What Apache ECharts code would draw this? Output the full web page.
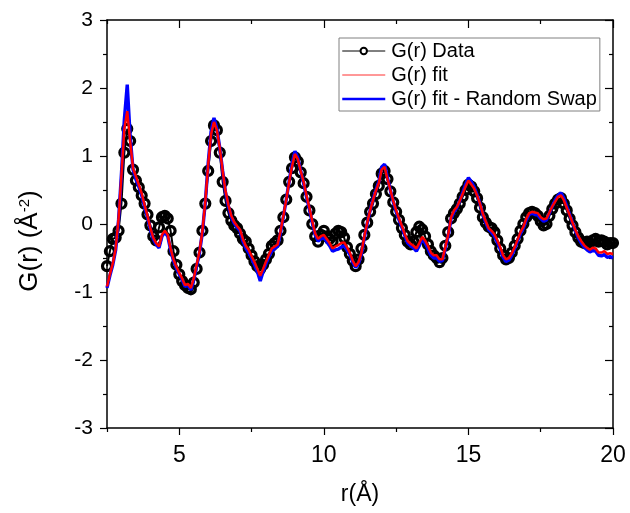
<!DOCTYPE html>
<html>
<head>
<meta charset="utf-8">
<script src="https://cdn.jsdelivr.net/npm/echarts@6/dist/echarts.min.js"></script>
<style>
  html, body { margin: 0; padding: 0; background: #fff; }
  #chart { width: 630px; height: 513px; }
</style>
</head>
<body>
<div id="chart"></div>
<script>
// Pair distribution function G(r), sampled every 0.1 Å from 2.5 Å to 20 Å
const R_START = 2.5;
const R_STEP = 0.1;

// Measured G(r)
const gData = [
  -0.62,-0.40,-0.22,-0.20,-0.10,0.30,1.05,1.40,1.22,0.80,
  0.64,0.54,0.42,0.30,0.14,-0.02,-0.18,-0.24,-0.05,0.10,
  0.12,0.08,-0.10,-0.40,-0.60,-0.74,-0.84,-0.90,-0.94,-0.96,
  -0.86,-0.66,-0.42,-0.10,0.30,0.78,1.22,1.45,1.38,1.05,
  0.62,0.34,0.16,0.05,-0.02,-0.06,-0.14,-0.22,-0.26,-0.36,
  -0.46,-0.55,-0.62,-0.66,-0.60,-0.52,-0.44,-0.32,-0.28,-0.24,
  -0.10,0.10,0.36,0.62,0.82,0.98,0.92,0.76,0.60,0.40,
  0.20,0.00,-0.18,-0.26,-0.16,-0.10,-0.18,-0.22,-0.26,-0.14,
  -0.10,-0.12,-0.20,-0.34,-0.44,-0.54,-0.62,-0.52,-0.36,-0.16,
  0.02,0.18,0.30,0.44,0.56,0.74,0.78,0.66,0.48,0.32,
  0.18,0.06,-0.06,-0.16,-0.26,-0.30,-0.26,-0.12,-0.04,-0.08,
  -0.18,-0.30,-0.40,-0.46,-0.50,-0.56,-0.50,-0.32,-0.12,0.08,
  0.16,0.22,0.30,0.40,0.50,0.58,0.55,0.48,0.38,0.24,
  0.10,0.02,-0.04,-0.06,-0.12,-0.24,-0.36,-0.46,-0.52,-0.50,
  -0.42,-0.32,-0.22,-0.10,0.00,0.10,0.16,0.18,0.16,0.12,
  0.04,-0.02,0.00,0.12,0.22,0.30,0.36,0.38,0.30,0.20,
  0.08,-0.02,-0.12,-0.20,-0.26,-0.28,-0.26,-0.28,-0.24,-0.22,
  -0.26,-0.24,-0.26,-0.30,-0.28,-0.28
];

// Fitted G(r)
const gFit = [
  -0.92,-0.74,-0.58,-0.36,0.08,0.72,1.40,1.66,1.22,0.82,
  0.70,0.58,0.45,0.28,0.12,-0.06,-0.20,-0.28,-0.33,-0.16,
  -0.10,-0.16,-0.36,-0.52,-0.63,-0.72,-0.80,-0.90,-0.88,-0.94,
  -0.80,-0.60,-0.40,-0.10,0.33,0.88,1.32,1.50,1.38,1.12,
  0.78,0.48,0.28,0.12,0.03,-0.03,-0.08,-0.22,-0.32,-0.38,
  -0.47,-0.56,-0.66,-0.76,-0.66,-0.55,-0.45,-0.36,-0.33,-0.30,
  -0.11,0.12,0.36,0.62,0.85,1.03,0.95,0.78,0.62,0.42,
  0.24,0.04,-0.14,-0.22,-0.18,-0.16,-0.22,-0.28,-0.36,-0.33,
  -0.31,-0.28,-0.27,-0.34,-0.42,-0.54,-0.62,-0.56,-0.42,-0.18,
  0.02,0.20,0.35,0.49,0.60,0.80,0.84,0.66,0.50,0.34,
  0.20,0.08,-0.03,-0.15,-0.25,-0.29,-0.32,-0.36,-0.28,-0.19,
  -0.24,-0.32,-0.42,-0.46,-0.46,-0.52,-0.52,-0.34,-0.16,0.10,
  0.20,0.25,0.34,0.44,0.55,0.64,0.58,0.52,0.42,0.30,
  0.15,0.04,-0.06,-0.10,-0.15,-0.24,-0.34,-0.46,-0.52,-0.50,
  -0.43,-0.34,-0.23,-0.12,-0.04,0.08,0.16,0.18,0.17,0.16,
  0.10,0.07,0.08,0.17,0.26,0.33,0.40,0.42,0.35,0.24,
  0.13,0.02,-0.09,-0.18,-0.25,-0.31,-0.35,-0.38,-0.35,-0.36,
  -0.42,-0.42,-0.40,-0.44,-0.43,-0.44
];

// Fitted G(r) after random swap refinement
const gFitSwap = [
  -0.94,-0.76,-0.60,-0.38,0.06,0.74,1.54,2.05,1.30,0.80,
  0.66,0.55,0.42,0.25,0.10,-0.08,-0.22,-0.30,-0.35,-0.18,
  -0.12,-0.18,-0.38,-0.54,-0.65,-0.74,-0.82,-0.92,-0.90,-0.97,
  -0.82,-0.62,-0.42,-0.12,0.32,0.90,1.36,1.56,1.40,1.12,
  0.78,0.46,0.26,0.10,0.01,-0.05,-0.10,-0.25,-0.35,-0.42,
  -0.50,-0.60,-0.70,-0.84,-0.70,-0.58,-0.48,-0.40,-0.36,-0.33,
  -0.13,0.11,0.36,0.63,0.88,1.07,0.97,0.78,0.60,0.40,
  0.22,0.02,-0.16,-0.25,-0.22,-0.20,-0.26,-0.32,-0.40,-0.38,
  -0.37,-0.34,-0.32,-0.38,-0.45,-0.56,-0.64,-0.58,-0.44,-0.20,
  0.01,0.20,0.36,0.50,0.62,0.84,0.88,0.68,0.50,0.33,
  0.18,0.06,-0.05,-0.17,-0.28,-0.32,-0.35,-0.40,-0.32,-0.22,
  -0.28,-0.36,-0.46,-0.50,-0.50,-0.55,-0.54,-0.36,-0.18,0.08,
  0.18,0.24,0.34,0.46,0.58,0.68,0.62,0.54,0.43,0.30,
  0.14,0.02,-0.08,-0.12,-0.18,-0.27,-0.37,-0.49,-0.55,-0.53,
  -0.46,-0.36,-0.25,-0.14,-0.06,0.06,0.14,0.16,0.14,0.13,
  0.08,0.04,0.06,0.16,0.26,0.35,0.42,0.46,0.38,0.26,
  0.14,0.02,-0.10,-0.20,-0.28,-0.34,-0.38,-0.41,-0.39,-0.40,
  -0.46,-0.47,-0.45,-0.49,-0.48,-0.50
];

// Axis ticks
const xMajorTicks = [5, 10, 15, 20];
const xMinorTicks = [2.5, 7.5, 12.5, 17.5];
const seriesNames = ['G(r) Data', 'G(r) fit', 'G(r) fit - Random Swap'];

// r sampling grid for the arrays above
const r = gData.map((_, i) => +(R_START + i * R_STEP).toFixed(2));
const pairs = vals => vals.map((v, i) => [r[i], v]);

const FONT = 'Liberation Sans, Arial, sans-serif';
const black = '#000';
const noMarker = { color: 'rgba(0,0,0,0)', borderWidth: 0 };

const xBase = { type: 'value', min: 2.5, max: 20, gridIndex: 0, splitLine: { show: false } };

const option = {
  animation: false,
  backgroundColor: '#fff',
  textStyle: { fontFamily: FONT, color: black },
  grid: { left: 107, right: 17, top: 20, bottom: 85, containLabel: false },
  legend: {
    orient: 'vertical',
    left: 339,
    top: 38,
    padding: [3, 3, 2, 2],
    itemGap: 4,
    itemWidth: 43,
    itemHeight: 8,
    borderColor: '#808080',
    borderWidth: 1,
    backgroundColor: '#fff',
    textStyle: { fontFamily: FONT, fontSize: 20, color: black, padding: [0, 0, 0, 1] },
    data: [
      { name: seriesNames[0], itemStyle: { color: '#fff', borderColor: black, borderWidth: 2 }, lineStyle: { width: 1, color: black } },
      { name: seriesNames[1], itemStyle: noMarker, lineStyle: { width: 1, color: '#ff3030' } },
      { name: seriesNames[2], itemStyle: noMarker, lineStyle: { width: 2.5, color: '#0000ff' } }
    ]
  },
  xAxis: [
    Object.assign({}, xBase, {
      position: 'bottom',
      name: 'r(Å)',
      nameLocation: 'middle',
      nameGap: 55,
      nameTextStyle: { fontFamily: FONT, fontSize: 23, color: black },
      axisLine: { show: true, onZero: false, lineStyle: { color: black, width: 1.5 } },
      axisTick: { show: true, inside: false, length: 7, customValues: xMajorTicks, lineStyle: { color: black, width: 1.2 } },
      axisLabel: { show: true, customValues: xMajorTicks, margin: 16, fontSize: 23, fontFamily: FONT, color: black }
    }),
    Object.assign({}, xBase, {
      position: 'bottom',
      axisLine: { show: false, onZero: false },
      axisTick: { show: true, inside: false, length: 4, customValues: xMinorTicks, lineStyle: { color: black, width: 1.2 } },
      axisLabel: { show: false }
    }),
    Object.assign({}, xBase, {
      position: 'top',
      axisLine: { show: true, onZero: false, lineStyle: { color: black, width: 1.5 } },
      axisTick: { show: true, inside: true, length: 8, customValues: xMajorTicks, lineStyle: { color: black, width: 1.2 } },
      axisLabel: { show: false }
    }),
    Object.assign({}, xBase, {
      position: 'top',
      axisLine: { show: false, onZero: false },
      axisTick: { show: true, inside: true, length: 4, customValues: xMinorTicks, lineStyle: { color: black, width: 1.2 } },
      axisLabel: { show: false }
    })
  ],
  yAxis: [
    {
      type: 'value', position: 'left', min: -3, max: 3, interval: 1,
      name: 'G(r) (Å{sup|-2})',
      nameLocation: 'middle',
      nameGap: 64,
      nameRotate: 90,
      nameTextStyle: {
        fontFamily: FONT, fontSize: 26, color: black,
        padding: [0, 34, 0, 0],
        rich: { sup: { fontFamily: FONT, fontSize: 15, color: black, verticalAlign: 'top', padding: [0, 0, 11, 0] } }
      },
      splitLine: { show: false },
      axisLine: { show: true, onZero: false, lineStyle: { color: black, width: 1.5 } },
      axisTick: { show: true, inside: false, length: 7, lineStyle: { color: black, width: 1.2 } },
      minorTick: { show: true, splitNumber: 2, length: 4, lineStyle: { color: black, width: 1.2 } },
      axisLabel: { margin: 14, fontSize: 21, fontFamily: FONT, color: black }
    },
    {
      type: 'value', position: 'right', min: -3, max: 3, interval: 1,
      splitLine: { show: false },
      axisLine: { show: true, onZero: false, lineStyle: { color: black, width: 1.5 } },
      axisTick: { show: true, inside: true, length: 8, lineStyle: { color: black, width: 1.2 } },
      minorTick: { show: true, splitNumber: 2, length: 4, lineStyle: { color: black, width: 1.2 } },
      axisLabel: { show: false }
    }
  ],
  series: [
    {
      name: seriesNames[0],
      type: 'line',
      xAxisIndex: 0, yAxisIndex: 0,
      data: pairs(gData),
      symbol: 'circle',
      symbolSize: 9,
      showAllSymbol: true,
      itemStyle: { color: 'rgba(0,0,0,0)', borderColor: black, borderWidth: 3.2 },
      lineStyle: { color: black, width: 2 },
      emphasis: { disabled: true },
      z: 2
    },
    {
      name: seriesNames[2],
      type: 'line',
      xAxisIndex: 0, yAxisIndex: 0,
      data: pairs(gFitSwap),
      symbol: 'none',
      itemStyle: { color: '#0000ff' },
      lineStyle: { color: '#0000ff', width: 3.4 },
      emphasis: { disabled: true },
      z: 3
    },
    {
      name: seriesNames[1],
      type: 'line',
      xAxisIndex: 0, yAxisIndex: 0,
      data: pairs(gFit),
      symbol: 'none',
      itemStyle: { color: '#ff0000' },
      lineStyle: { color: '#ff0000', width: 2.5 },
      emphasis: { disabled: true },
      z: 4
    }
  ]
};

const chart = echarts.init(document.getElementById('chart'), null, { renderer: 'canvas' });
chart.setOption(option);
</script>
</body>
</html>
